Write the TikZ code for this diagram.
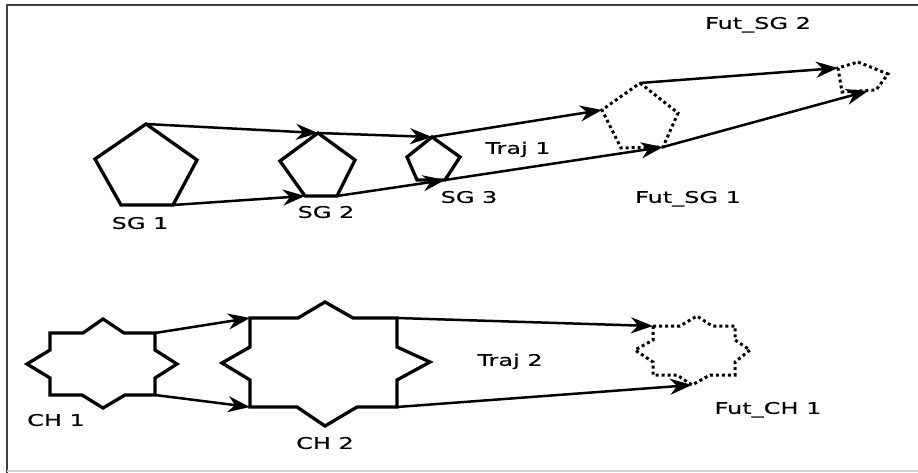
\documentclass[tikz,border=0pt]{standalone}
\usepackage{fontspec}
\newfontfamily\labfont[FakeStretch=1.5,FakeBold=0.3]{DejaVu Sans}
\usetikzlibrary{arrows.meta}
\begin{document}
\begin{tikzpicture}[x=1pt,y=-1pt,
  shp/.style={line width=3.3pt, line join=miter},
  fut/.style={line width=3pt, dash pattern=on 3pt off 3pt},
  conn/.style={line width=2.5pt, -{Stealth[length=22pt,width=16pt,inset=7pt]}},
  lab/.style={font=\labfont\fontsize{16}{19}\selectfont, inner sep=0pt, text height=11.7pt, text depth=0pt}]
\useasboundingbox (0,0) rectangle (918,473);
% frame
\draw[line width=2.6pt, black!75] (918,5) -- (7,5) -- (7,473);
\draw[line width=1.2pt, black!18] (7,471) -- (918,471);

% pentagon vertices
\coordinate (sg1t) at (146,124); \coordinate (sg1l) at (95,159); \coordinate (sg1r) at (197,160);
\coordinate (sg1bl) at (121,205); \coordinate (sg1br) at (173,205);
\coordinate (sg2t) at (318,133); \coordinate (sg2l) at (280,161); \coordinate (sg2r) at (355,160);
\coordinate (sg2bl) at (305,196); \coordinate (sg2br) at (337,196);
\coordinate (sg3t) at (432,137); \coordinate (sg3l) at (407,157); \coordinate (sg3r) at (460,157);
\coordinate (sg3bl) at (417,180); \coordinate (sg3br) at (445,180);
\coordinate (f1t) at (640,83); \coordinate (f1l) at (602,110); \coordinate (f1r) at (678,113);
\coordinate (f1bl) at (621,148); \coordinate (f1br) at (663,147);
\coordinate (f2l) at (838,68); \coordinate (f2t) at (858,62); \coordinate (f2r) at (888,74);
\coordinate (f2br) at (876,90); \coordinate (f2bl) at (842,92); \coordinate (f2b) at (868,91);

\draw[shp] (sg1t) -- (sg1r) -- (sg1br) -- (sg1bl) -- (sg1l) -- cycle;
\draw[shp] (sg2t) -- (sg2r) -- (sg2br) -- (sg2bl) -- (sg2l) -- cycle;
\draw[shp] (sg3t) -- (sg3r) -- (sg3br) -- (sg3bl) -- (sg3l) -- cycle;
\draw[fut] (f1t) -- (f1r) -- (f1br) -- (f1bl) -- (f1l) -- cycle;
\draw[fut] (f2t) -- (f2r) -- (f2br) -- (f2bl) -- (f2l) -- cycle;

% CH shapes
\coordinate (ch1tr) at (155,333); \coordinate (ch1br) at (155,395);
\coordinate (ch2tl) at (250,318); \coordinate (ch2bl) at (250,407);
\coordinate (ch2tr) at (397,318); \coordinate (ch2br) at (397,407);
\coordinate (fchtl) at (653,326); \coordinate (fchb) at (692,385);

\draw[shp] (50,333) -- (83,333) -- (103,319) -- (124,333) -- (ch1tr) -- (155,350) -- (177,364) -- (155,378)
  -- (ch1br) -- (125,395) -- (103,408) -- (82,395) -- (50,395) -- (50,378) -- (27,364) -- (50,350) -- cycle;
\draw[shp] (ch2tl) -- (298,318) -- (325,302) -- (353,318) -- (ch2tr) -- (397,347) -- (430,362) -- (397,380)
  -- (ch2br) -- (357,407) -- (325,426) -- (297,407) -- (ch2bl) -- (250,380) -- (222,363) -- (250,347) -- cycle;
\draw[fut] (fchtl) -- (680,326) -- (697,316) -- (712,326) -- (735,326) -- (735,340) -- (750,350) -- (735,362)
  -- (735,375) -- (710,375) -- (fchb) -- (677,375) -- (653,375) -- (653,362) -- (635,350) -- (653,340) -- cycle;

% connectors
\draw[conn] (sg1t) -- (sg2t);
\draw[conn] (sg2t) -- (sg3t);
\draw[conn] (sg3t) -- (f1l);
\draw[conn] (f1t) -- (f2l);
\draw[conn] (sg1br) -- (sg2bl);
\draw[conn] (sg2br) -- (sg3br);
\draw[conn] (sg3br) -- (f1br);
\draw[conn] (f1br) -- (f2b);
\draw[conn] (ch1tr) -- (ch2tl);
\draw[conn] (ch1br) -- (ch2bl);
\draw[conn] (ch2tr) -- (fchtl);
\draw[conn] (ch2br) -- (fchb);

% labels
\node[lab] (lsg1) at (140,223) {SG 1};
\node[lab] (lsg2) at (326,212) {SG 2};
\node[lab] (lsg3) at (469,197) {SG 3};
\node[lab] (lf1) at (688,197) {Fut\_SG 1};
\node[lab] (lf2) at (758,23) {Fut\_SG 2};
\node[lab] (lt1) at (518,148) {Traj 1};
\node[lab] (lch1) at (56,420) {CH 1};
\node[lab] (lch2) at (325,443) {CH 2};
\node[lab] (lt2) at (510,360) {Traj 2};
\node[lab] (lfch) at (768,408) {Fut\_CH 1};
\end{tikzpicture}
\end{document}
